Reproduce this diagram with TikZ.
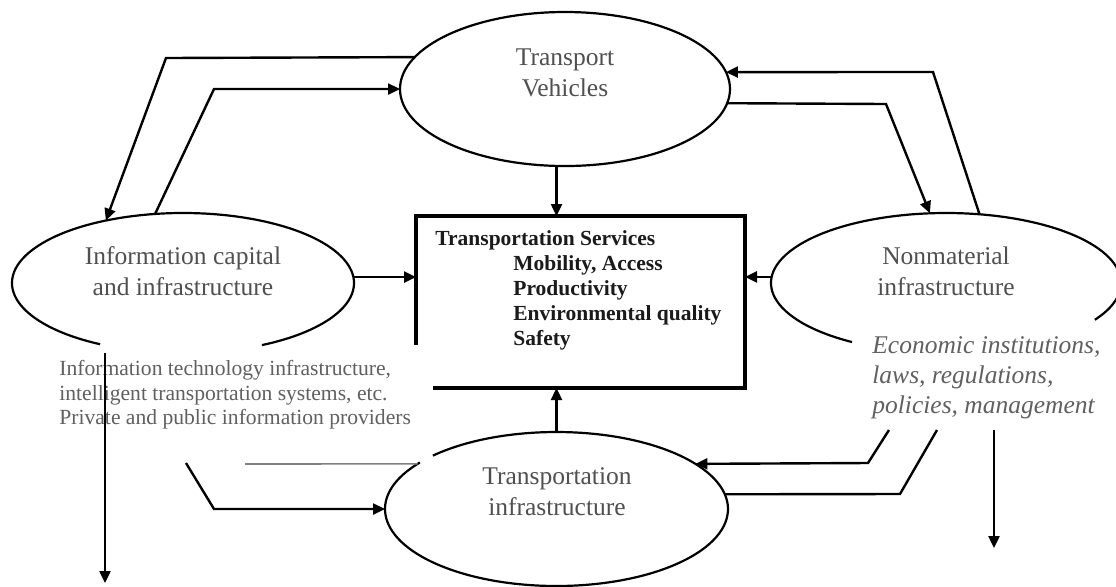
\documentclass[tikz,border=0pt]{standalone}
\usepackage{fontspec}
\setmainfont{Liberation Serif}
\usetikzlibrary{arrows.meta,shapes.geometric,calc}
\definecolor{lbl}{HTML}{505050}
\definecolor{subtxt}{HTML}{606060}
\definecolor{boxtxt}{HTML}{1A1A1A}
\begin{document}
\begin{tikzpicture}[x=0.5pt,y=-0.5pt,
  ell/.style={ellipse,draw=none,inner sep=0pt,outer sep=0pt},
  eline/.style={line width=1.1pt,black},
  arr/.style={line width=1.2pt,-{Triangle[length=6pt,width=5.5pt]}},
  plainline/.style={line width=1.2pt},
  grayline/.style={line width=0.8pt,draw=gray},
  boxline/.style={line width=1.6pt},
  lbltext/.style={font=\fontsize{12.75}{15.5}\selectfont,text=lbl,align=center,inner sep=0pt},
  subtext/.style={font=\fontsize{10.8}{12.25}\selectfont,text=subtxt,align=left,inner sep=0pt,anchor=north west},
  itext/.style={font=\itshape\fontsize{12.75}{15}\selectfont,text=subtxt,align=left,inner sep=0pt,anchor=north west},
  bxtext/.style={font=\bfseries\fontsize{10.75}{12.5}\selectfont,text=boxtxt,align=left,inner sep=0pt,anchor=north west}
]
\useasboundingbox (0,0) rectangle (1116,586);
\fill[white] (0,0) rectangle (1116,586);

% ellipse nodes
\node[ell,draw,eline,minimum width=165pt,minimum height=77pt] (tv) at (565,89) {};
\node[ell,minimum width=171pt,minimum height=70pt] (info) at (183,283) {};
\node[ell,minimum width=175pt,minimum height=70pt] (nm) at (946,283) {};
\node[ell,minimum width=171.5pt,minimum height=77pt] (ti) at (556.5,509) {};
\node[draw=none,inner sep=0pt,outer sep=0pt,minimum width=164.5pt,minimum height=86pt] (box) at (580.5,302) {};

% ellipse outlines with gaps
\draw[eline] (info.center) ++(119:171 and 70) arc[start angle=119,end angle=422.5,x radius=171,y radius=70];
\draw[eline] (nm.center) ++(122.5:175 and 70) arc[start angle=122.5,end angle=391.7,x radius=175,y radius=70];
\draw[eline] (ti.center) ++(223.9:171.5 and 77) arc[start angle=223.9,end angle=577.2,x radius=171.5,y radius=77];

% box outline (gap at lower left corner)
\draw[boxline] ($(box.south west)+(0,-43)$) -- (box.north west) -- (box.north east) -- (box.south east) -- ($(box.south west)+(17,0)$);

% texts
\node[lbltext] (tvl) at (565,73) {Transport\\Vehicles};
\node[lbltext] (infol) at (183,271) {Information capital\\and infrastructure};
\node[lbltext] (nml) at (946,271.5) {Nonmaterial\\infrastructure};
\node[lbltext] (til) at (557,492) {Transportation\\infrastructure};
\node[bxtext] (bxl) at (435,230) {Transportation Services\\\hspace*{39pt}Mobility, Access\\\hspace*{39pt}Productivity\\\hspace*{39pt}Environmental quality\\\hspace*{39pt}Safety};
\node[subtext] (infod) at (59,360) {Information technology infrastructure,\\intelligent transportation systems, etc.\\Private and public information providers};
\node[itext] (nmd) at (872,336) {Economic institutions,\\laws, regulations,\\policies, management};

% free ends
\coordinate (c1) at (186,463);
\coordinate (c2) at (245,464);
\coordinate (c3) at (889,430);
\coordinate (c4) at (937,430);
\coordinate (c5) at (994,430);
\coordinate (c6) at (994,548);
\coordinate (c7) at (105,353);
\coordinate (c8) at (105,583);

% connectors
\draw[arr] (tv.168.4) -- (166,58) -- (info.141.4);
\draw[arr] (info.112.8) -- (214,89) -- (tv.west);
\draw[arr] (nm.64.3) -- (933,72) -- (tv.6);
\draw[arr] (tv.-5.3) -- (886,104) -- (nm.103.7);
\draw[arr] (tv.south -| ti.north) -- (box.north -| ti.north);
\draw[arr] (ti.north) -- (box.south -| ti.north);
\draw[arr] (info.2) -- (info.2 -| box.west);
\draw[arr] (nm.178.4) -- (nm.178.4 -| box.east);
\draw[arr] (c1) -- (214,509) -- (ti.west);
\draw[grayline] (c2) -- (ti.162.1);
\draw[arr] (c3) -- (868,463) -- (ti.18.5);
\draw[plainline] (c4) -- (900,494) -- (ti.5.1);
\draw[arr] (c5) -- (c6);
\draw[arr] (c7) -- (c8);
\end{tikzpicture}
\end{document}
